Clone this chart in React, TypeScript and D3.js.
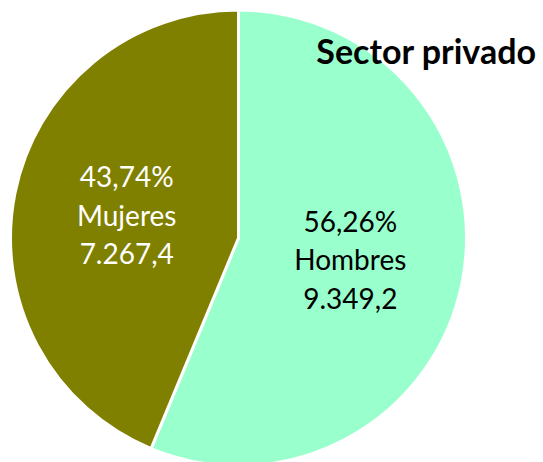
import React from 'react'
import * as d3 from 'd3'

const categories = ['Hombres', 'Mujeres']
const values = [9349.2, 7267.4]
const percents = ['56,26%', '43,74%']
const amounts = ['9.349,2', '7.267,4']
const colors = ['#99ffcc', '#808000']
const textColors = ['#000000', '#ffffff']

const width = 543
const height = 462
const cx = 238.5
const cy = 238
const radius = 228

export default function App() {
    const pie = d3.pie<number>().sort(null).value(d => d)
    const arcs = pie(values)
    const arc = d3.arc<d3.PieArcDatum<number>>().innerRadius(0).outerRadius(radius)
    const labelArc = d3.arc<d3.PieArcDatum<number>>().innerRadius(radius * 0.5).outerRadius(radius * 0.5)
    const lineH = 38.5

    return <svg width={width} height={height} style={{position: 'absolute', left: 0, top: 0}}>
        <g transform={`translate(${cx},${cy})`}>
            {arcs.map((a, i) => <path key={i} d={arc(a) || ''} fill={colors[i]} stroke="#ffffff" strokeWidth={3} />)}
            {arcs.map((a, i) => {
                const [lx, ly] = labelArc.centroid(a)
                const lines = [percents[i], categories[i], amounts[i]]
                return <text key={i} x={lx} y={ly} textAnchor="middle" fill={textColors[i]}
                    style={{fontFamily: 'Lato, "Open Sans", sans-serif', fontSize: 28}}>
                    {lines.map((t, j) => <tspan key={j} x={lx} y={ly + (j - 1) * lineH} dy="0.35em">{t}</tspan>)}
                </text>
            })}
        </g>
        <text x={536} y={64} textAnchor="end" fill="#000"
            style={{fontFamily: 'Lato, "Open Sans", sans-serif', fontSize: 34, fontWeight: 'bold'}}>Sector privado</text>
    </svg>
}
